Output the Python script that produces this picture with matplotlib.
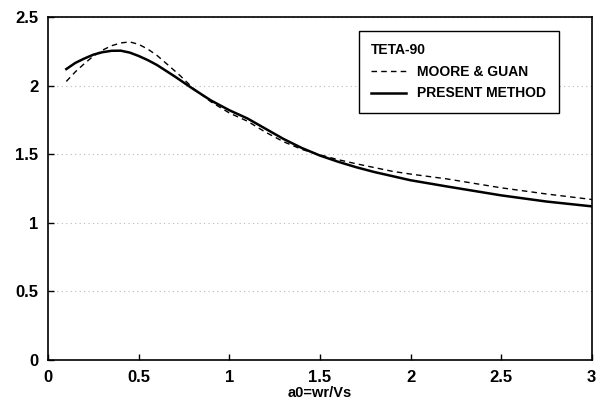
import matplotlib
matplotlib.use('Agg')
from matplotlib import pyplot as plt

# values
x_pm = [0.1, 0.15, 0.2, 0.25, 0.3, 0.35, 0.4, 0.45, 0.5, 0.55, 0.6, 0.7, 0.75, 0.8, 0.9,
        1.0, 1.1, 1.2, 1.3, 1.4, 1.5, 1.6, 1.7, 1.8, 2.0, 2.2, 2.5, 2.75, 3.0]
y_pm = [2.12, 2.165, 2.197, 2.225, 2.243, 2.253, 2.254, 2.24, 2.215, 2.185, 2.15, 2.065, 2.02, 1.975, 1.89,
        1.82, 1.76, 1.685, 1.61, 1.545, 1.49, 1.445, 1.405, 1.37, 1.31, 1.265, 1.20, 1.155, 1.12]

x_mg = [0.1, 0.15, 0.2, 0.25, 0.3, 0.35, 0.4, 0.45, 0.5, 0.55, 0.6, 0.67, 0.73, 0.8, 0.9,
        1.0, 1.1, 1.2, 1.3, 1.4, 1.5, 1.6, 1.7, 1.9, 2.0, 2.2, 2.5, 2.75, 3.0]
y_mg = [2.03, 2.10, 2.16, 2.215, 2.258, 2.29, 2.31, 2.318, 2.30, 2.265, 2.22, 2.14, 2.07, 1.98, 1.88,
        1.80, 1.74, 1.66, 1.59, 1.535, 1.495, 1.46, 1.43, 1.375, 1.355, 1.32, 1.255, 1.21, 1.17]

xticks = [0, 0.5, 1, 1.5, 2, 2.5, 3]
xticklabels = ['0', '0.5', '1', '1.5', '2', '2.5', '3']
yticks = [0, 0.5, 1, 1.5, 2, 2.5]
yticklabels = ['0', '0.5', '1', '1.5', '2', '2.5']

plt.rcParams['font.family'] = ['Liberation Sans', 'DejaVu Sans']
plt.rcParams['font.weight'] = 'bold'

fig = plt.figure(figsize=(6.1, 4.12), dpi=100)
ax = fig.add_axes([0.079, 0.126, 0.891, 0.833])

ax.plot(x_mg, y_mg, color='black', lw=1.0, ls=(0, (4, 3)), label='MOORE & GUAN')
ax.plot(x_pm, y_pm, color='black', lw=1.8, label='PRESENT METHOD')

ax.set_xlim(0, 3)
ax.set_ylim(0, 2.5)
ax.set_xticks(xticks)
ax.set_xticklabels(xticklabels, fontsize=12, fontweight='bold')
ax.set_yticks(yticks)
ax.set_yticklabels(yticklabels, fontsize=12, fontweight='bold')
ax.tick_params(direction='in', length=4, width=1, pad=7)
ax.yaxis.grid(True, ls=(0, (1, 3)), color='#b8b8b8', lw=0.8)
for s in ax.spines.values():
    s.set_linewidth(1.2)

ax.set_xlabel('a0=wr/Vs', fontsize=10.5, fontweight='bold', labelpad=1)

leg = ax.legend(title='TETA-90', loc='upper right', bbox_to_anchor=(0.952, 0.98),
                frameon=True, fancybox=False, edgecolor='black', framealpha=1,
                fontsize=10, title_fontsize=10, handlelength=2.5,
                borderpad=0.9, labelspacing=0.55, alignment='left')
leg.get_frame().set_linewidth(1.0)
leg.get_title().set_fontweight('bold')
for t in leg.get_texts():
    t.set_fontweight('bold')

fig.savefig('out.png', dpi=100)
